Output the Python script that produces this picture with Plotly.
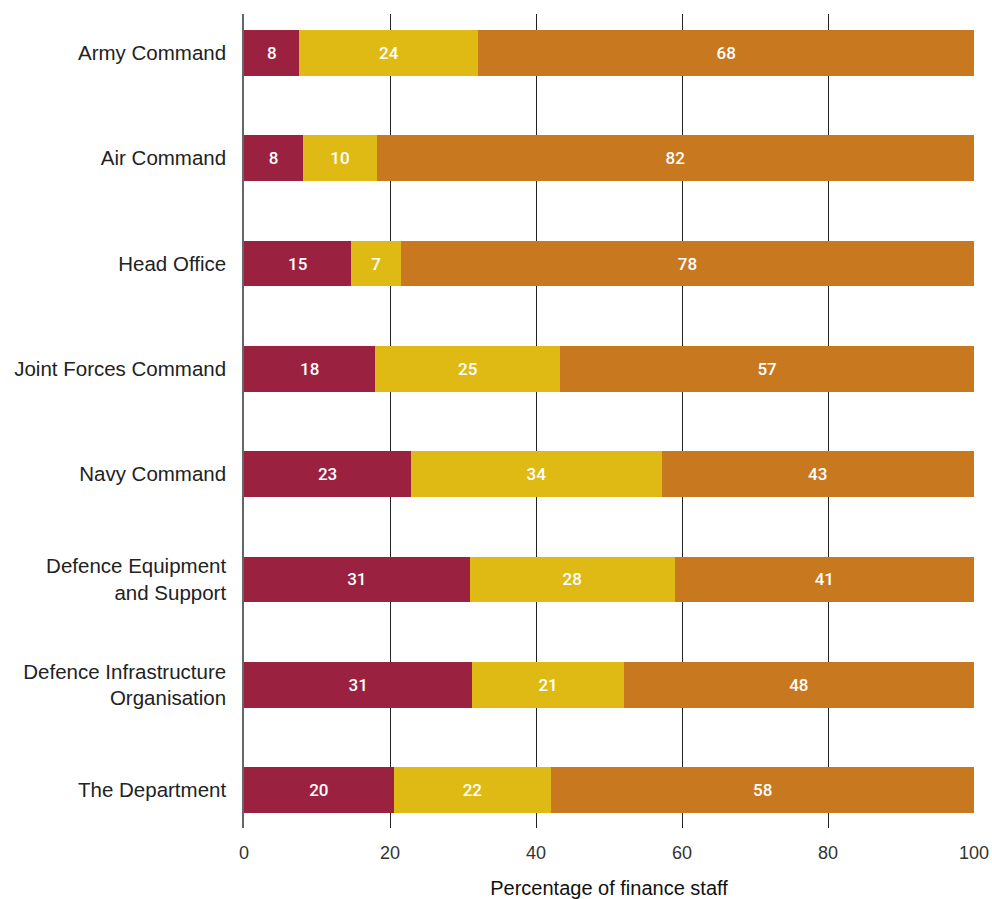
import plotly.graph_objects as go

categories = ["Army Command", "Air Command", "Head Office", "Joint Forces Command",
              "Navy Command", "Defence Equipment<br>and Support",
              "Defence Infrastructure<br>Organisation", "The Department"]

red_vals = [7.6, 8.1, 14.7, 18.0, 22.9, 30.9, 31.3, 20.5]
yellow_vals = [24.5, 10.1, 6.8, 25.3, 34.3, 28.1, 20.7, 21.6]
orange_vals = [67.9, 81.8, 78.5, 56.7, 42.8, 41.0, 48.0, 57.9]

red_labels = [8, 8, 15, 18, 23, 31, 31, 20]
yellow_labels = [24, 10, 7, 25, 34, 28, 21, 22]
orange_labels = [68, 82, 78, 57, 43, 41, 48, 58]

x_ticks = [0, 20, 40, 60, 80, 100]

colors = ["#9B2140", "#DFBA14", "#C8781F"]
ypos = list(range(len(categories)))

fig = go.Figure()
for vals, labs, col in [(red_vals, red_labels, colors[0]),
                        (yellow_vals, yellow_labels, colors[1]),
                        (orange_vals, orange_labels, colors[2])]:
    fig.add_trace(go.Bar(
        y=ypos, x=vals, orientation="h", width=0.434,
        marker=dict(color=col, line=dict(width=0)),
        text=[str(v) for v in labs], textposition="inside",
        insidetextanchor="middle", textangle=0, constraintext="none",
        textfont=dict(family="Roboto", size=17, color="white", weight=500),
        hoverinfo="skip", showlegend=False,
    ))

fig.update_layout(
    barmode="stack",
    width=992, height=899,
    margin=dict(l=244, r=18, t=14, b=71),
    paper_bgcolor="white", plot_bgcolor="white",
    font=dict(family="Liberation Sans", color="#222222"),
    showlegend=False,
)
fig.update_xaxes(
    range=[0, 100], tickvals=x_ticks, ticktext=[str(t) for t in x_ticks],
    showgrid=True, gridcolor="#222222", gridwidth=1,
    zeroline=False, showline=False, automargin=False,
    ticks="outside", ticklen=8, tickcolor="rgba(0,0,0,0)",
    tickfont=dict(size=18, color="#333333"),
    title=dict(text="Percentage of finance staff", font=dict(size=20, color="#111111"), standoff=22),
)
fig.update_yaxes(
    range=[7.36, -0.37], tickvals=ypos, ticktext=categories,
    showgrid=False, zeroline=False, automargin=False,
    showline=True, linecolor="#666666", linewidth=1.5,
    ticks="outside", ticklen=12, tickcolor="rgba(0,0,0,0)",
    tickfont=dict(size=20.5, color="#222222"),
)

fig.write_html("out.html")
